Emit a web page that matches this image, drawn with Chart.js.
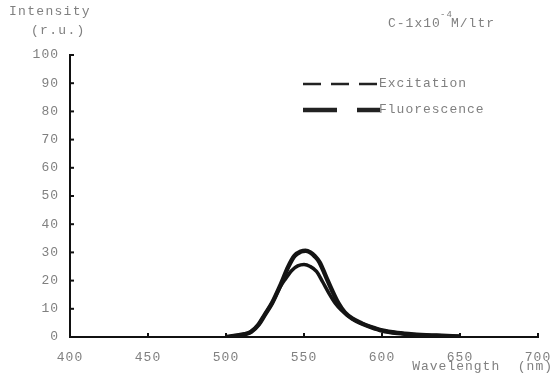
<!DOCTYPE html>
<html>
<head>
<meta charset="utf-8">
<script src="https://cdn.jsdelivr.net/npm/chart.js@4"></script>
<style>
  body { margin: 0; background: #fff; }
  #wrap { width: 554px; height: 381px; }
</style>
</head>
<body>
<div id="wrap"><canvas id="myChart"></canvas></div>
<script>
// data
var xTicks = [400, 450, 500, 550, 600, 650, 700];
var yTicks = [0, 10, 20, 30, 40, 50, 60, 70, 80, 90, 100];

var fluorNm  = [500, 505, 512, 516, 521, 525, 529.5, 535, 540, 544, 548, 551, 554, 557, 560, 564, 568, 572, 576, 581, 587, 593, 600, 610, 620, 635, 650];
var fluorVal = [0, 0.4, 1, 1.8, 4.5, 8, 12, 18.5, 25, 28.8, 30.3, 30.6, 30, 28.6, 26.5, 21.5, 16.5, 12, 8.8, 6.5, 4.8, 3.5, 2.3, 1.4, 0.9, 0.5, 0.2];

var excNm  = [500, 505, 512, 516, 521, 525, 529.5, 535, 538, 542, 546, 550, 554, 558, 562, 566, 570, 574, 581, 587, 593, 600, 610, 620, 635, 650];
var excVal = [0, 0.4, 1, 1.8, 4.5, 8, 12, 18, 20.5, 23.5, 25.2, 25.7, 25, 23.3, 19.5, 15.5, 12, 9.5, 6.5, 4.8, 3.5, 2.3, 1.4, 0.9, 0.5, 0.2];

function pts(xs, ys) {
  return xs.map(function (x, i) { return { x: x, y: ys[i] }; });
}

var FONT = '"Liberation Mono", "DejaVu Sans Mono", monospace';
var GREY = '#808080';

// typewriter look: a bit of letter spacing for all canvas text
var spacing = {
  id: 'spacing',
  beforeLayout: function (chart) { chart.ctx.letterSpacing = '1px'; },
  beforeDraw: function (chart) { chart.ctx.letterSpacing = '1px'; }
};

// small inward tick marks + extra labels + hand drawn legend
var extras = {
  id: 'extras',
  afterDraw: function (chart) {
    var ctx = chart.ctx, xs = chart.scales.x, ys = chart.scales.y;
    var a = chart.chartArea;
    ctx.save();
    ctx.strokeStyle = '#111';
    ctx.lineWidth = 2;
    ctx.setLineDash([]);
    yTicks.forEach(function (v) {
      var p = ys.getPixelForValue(v);
      ctx.beginPath(); ctx.moveTo(a.left, p); ctx.lineTo(a.left + 4, p); ctx.stroke();
    });
    xTicks.forEach(function (v) {
      var p = xs.getPixelForValue(v);
      ctx.beginPath(); ctx.moveTo(p, a.bottom); ctx.lineTo(p, a.bottom - 4); ctx.stroke();
    });

    ctx.fillStyle = GREY;
    ctx.font = '13px ' + FONT;
    ctx.textBaseline = 'middle';
    ctx.letterSpacing = '1.3px';
    ctx.textAlign = 'left';
    ctx.fillText('Intensity', 9, 12);
    ctx.fillText('(r.u.)', 31, 31);

    ctx.letterSpacing = '1px';
    ctx.fillText('C-1x10', 388, 24);
    ctx.font = '9px ' + FONT;
    ctx.fillText('-4', 440, 15);
    ctx.font = '13px ' + FONT;
    ctx.fillText('M/ltr', 451, 24);

    ctx.textAlign = 'right';
    ctx.fillText('Wavelength  (nm)', 553, 367);

    // legend
    ctx.textAlign = 'left';
    ctx.fillText('Excitation', 379, 84);
    ctx.fillText('Fluorescence', 379, 110);
    ctx.strokeStyle = '#222';
    ctx.lineWidth = 2.5;
    ctx.setLineDash([18, 10]);
    ctx.beginPath(); ctx.moveTo(303, 84); ctx.lineTo(380, 84); ctx.stroke();
    ctx.lineWidth = 4.5;
    ctx.setLineDash([34, 20]);
    ctx.beginPath(); ctx.moveTo(303, 110); ctx.lineTo(380, 110); ctx.stroke();
    ctx.restore();
  }
};

var ctx = document.getElementById('myChart').getContext('2d');
var chart = new Chart(ctx, {
  type: 'line',
  data: {
    datasets: [{
      label: 'Fluorescence',
      data: pts(fluorNm, fluorVal),
      borderColor: '#141414',
      borderWidth: 4.5,
      pointRadius: 0,
      fill: false,
      cubicInterpolationMode: 'monotone'
    }, {
      label: 'Excitation',
      data: pts(excNm, excVal),
      borderColor: '#141414',
      borderWidth: 3.5,
      pointRadius: 0,
      fill: false,
      cubicInterpolationMode: 'monotone'
    }]
  },
  options: {
    responsive: true,
    maintainAspectRatio: false,
    animation: false,
    layout: { padding: { top: 55, right: 0, left: 0, bottom: 0 } },
    plugins: { legend: { display: false }, tooltip: { enabled: false } },
    scales: {
      x: {
        type: 'linear',
        min: 400,
        max: 700,
        afterBuildTicks: function (s) { s.ticks = xTicks.map(function (v) { return { value: v }; }); },
        afterFit: function (s) { s.height = 44; s.paddingRight = 16; },
        grid: { display: false, drawTicks: false },
        border: { display: true, color: '#111', width: 2 },
        ticks: { color: GREY, font: { family: FONT, size: 13 }, padding: 13, maxRotation: 0 }
      },
      y: {
        min: 0,
        max: 100,
        afterBuildTicks: function (s) { s.ticks = yTicks.map(function (v) { return { value: v }; }); },
        afterFit: function (s) { s.width = 70; },
        grid: { display: false, drawTicks: false },
        border: { display: true, color: '#111', width: 2 },
        ticks: { color: GREY, font: { family: FONT, size: 13 }, padding: 11 }
      }
    }
  },
  plugins: [spacing, extras]
});
</script>
</body>
</html>
